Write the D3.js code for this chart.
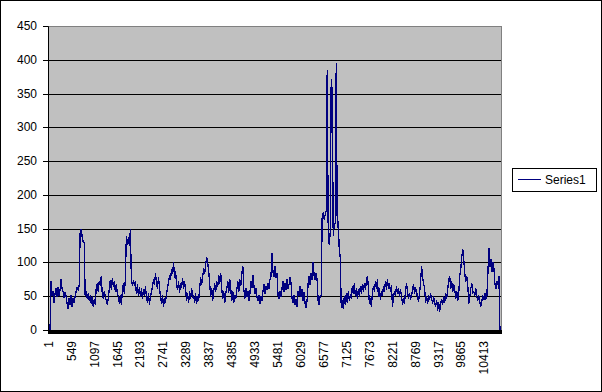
<!DOCTYPE html>
<html><head><meta charset="utf-8">
<script src="https://cdn.jsdelivr.net/npm/d3@7"></script>
<style>
body{margin:0;background:#fff}
svg{display:block}
text{font-family:Arial,"Liberation Sans",sans-serif}
</style>
</head><body>
<svg id="c" width="602" height="392"></svg>
<script>
const seriesName = "Series1";
const recordCount = 10850;
const sampleStep = 24;
const series1 = [
0,0,0,73,52,57,41,55,62,50,
64,52,60,75,62,58,49,56,50,40,
33,48,38,52,36,48,42,50,58,64,
60,66,144,149,139,132,130,52,58,47,
55,45,52,40,50,36,46,38,62,70,
58,72,66,80,55,47,58,50,45,38,
48,62,74,60,77,65,72,58,68,55,
50,40,52,38,58,70,55,75,139,128,
138,126,149,75,66,74,68,72,55,68,
52,64,50,62,48,60,52,65,50,42,
55,39,50,58,65,75,68,85,70,62,
78,64,50,40,52,36,48,42,55,62,
72,82,76,90,85,100,78,88,68,60,
72,56,70,64,77,62,72,60,45,55,
42,58,48,62,50,52,42,55,40,50,
45,62,78,68,80,92,85,97,108,100,
88,70,50,62,45,58,70,58,72,65,
82,70,85,62,48,58,42,55,62,72,
56,75,60,45,58,42,52,48,60,72,
58,75,66,85,94,60,48,62,50,58,
45,55,72,64,82,66,55,62,50,45,
52,40,50,44,58,68,55,65,60,70,
62,75,80,114,88,80,95,78,85,52,
48,57,50,62,72,58,70,60,75,62,
68,78,70,48,42,52,38,46,36,58,
52,65,50,60,44,56,40,34,45,70,
80,68,84,75,100,82,76,84,74,45,
38,52,52,168,175,165,172,178,385,150,
128,145,372,355,140,155,160,395,152,162,
120,108,34,45,32,50,38,55,42,58,
45,52,48,65,55,70,52,62,48,60,
50,65,55,68,58,70,60,72,80,65,
40,48,36,55,65,58,72,62,75,50,
62,46,58,52,65,58,72,60,75,62,
70,58,66,35,50,58,52,65,55,62,
50,60,52,38,48,40,60,70,56,48,
55,46,52,60,68,55,64,58,48,44,
55,72,94,78,70,62,42,50,40,52,
46,55,48,40,50,42,35,45,30,42,
28,40,46,38,50,42,55,48,60,75,
80,62,72,58,68,60,48,58,44,55,
82,90,110,120,105,85,72,80,66,40,
50,62,70,56,58,52,62,50,45,52,
42,36,44,50,46,55,48,52,85,122,
95,105,88,100,92,70,62,72,68,80,
0
];
const yTicks = [0,50,100,150,200,250,300,350,400,450];
const xTickLabels = ["1","549","1097","1645","2193","2741","3289","3837","4385","4933","5481","6029","6577","7125","7673","8221","8769","9317","9865","10413"];

const records = series1.map((v, i) => 1 + i * sampleStep);

const plotLeft = 48, plotRight = 502, plotTop = 26, plotBottom = 330;

const svg = d3.select("#c");

// outer frame
svg.append("rect").attr("x",0.5).attr("y",0.5).attr("width",601).attr("height",391)
  .attr("fill","#fff").attr("stroke","#000");

const x = d3.scaleLinear().domain([0.5, recordCount + 0.5]).range([plotLeft, plotRight]);
const y = d3.scaleLinear().domain([0, 450]).range([plotBottom, plotTop]).interpolate(d3.interpolateRound);

// plot area
svg.append("rect").attr("x",plotLeft+0.5).attr("y",plotTop+0.5)
  .attr("width",plotRight-plotLeft-1).attr("height",plotBottom-plotTop)
  .attr("fill","#c0c0c0").attr("stroke","#808080");

// gridlines
svg.append("g").selectAll("line").data(yTicks.filter(d => d > 0 && d < 450)).join("line")
  .attr("x1",plotLeft).attr("x2",plotRight-1)
  .attr("y1",d => y(d)+0.5).attr("y2",d => y(d)+0.5)
  .attr("stroke","#000").attr("stroke-width",1);

// series line
const line = d3.line().x((d,i) => x(records[i])).y(d => y(d) + 0.5);
svg.append("path").datum(series1).attr("d", line)
  .attr("fill","none").attr("stroke","#000080").attr("stroke-width",1.3)
  .attr("shape-rendering","crispEdges");

// x axis: dense category tick marks
svg.append("rect").attr("x",plotLeft).attr("y",plotBottom).attr("width",plotRight-plotLeft).attr("height",4).attr("fill","#000");

const xAxis = d3.axisBottom(x)
  .tickValues(xTickLabels.map(Number))
  .tickSize(0)
  .tickFormat((d,i) => xTickLabels[i]);
const gx = svg.append("g").attr("transform",`translate(0,${plotBottom+4})`).call(xAxis);
gx.select(".domain").remove();
gx.selectAll("text")
  .attr("font-size",12).attr("fill","#000")
  .attr("transform","rotate(-90)")
  .attr("x",-7).attr("y",0).attr("dy","0.35em")
  .style("text-anchor","end");

// y axis
const yAxis = d3.axisLeft(y).tickValues(yTicks).tickSize(5).tickPadding(6);
const gy = svg.append("g").attr("transform",`translate(${plotLeft},0)`).call(yAxis);
gy.selectAll("text").attr("font-size",12).attr("fill","#000").attr("font-family","Arial, 'Liberation Sans', sans-serif");
gy.selectAll("line").attr("stroke","#000");
gy.select(".domain").attr("stroke","#000");

// legend
const lg = svg.append("g");
lg.append("rect").attr("x",512.5).attr("y",168.5).attr("width",84).attr("height",23)
  .attr("fill","#fff").attr("stroke","#000");
lg.append("line").attr("x1",518).attr("x2",541).attr("y1",179.5).attr("y2",179.5)
  .attr("stroke","#000080").attr("stroke-width",1);
lg.append("text").attr("x",545).attr("y",180).attr("dy","0.35em")
  .attr("font-size",12).attr("fill","#000").text(seriesName);
</script>
</body></html>
